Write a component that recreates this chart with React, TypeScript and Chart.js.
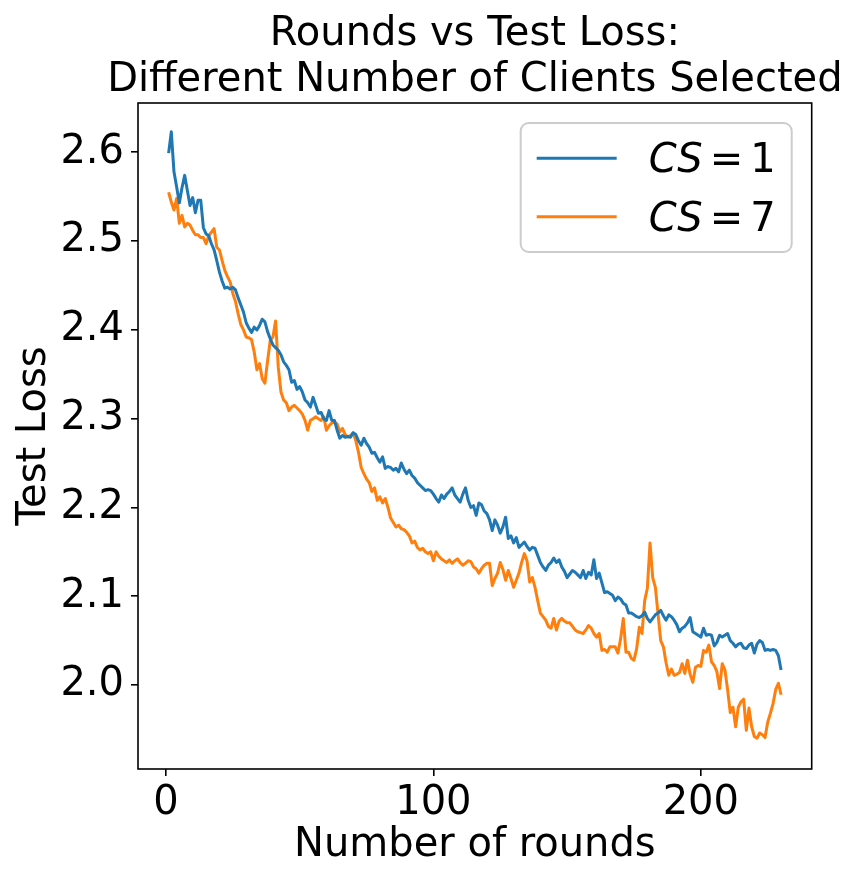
import React, { useEffect, useRef } from "react";
import { Chart, registerables } from "chart.js";

Chart.register(...registerables);

const TITLE_LINES = ["Rounds vs Test Loss:", "Different Number of Clients Selected"];
const X_LABEL = "Number of rounds";
const Y_LABEL = "Test Loss";
const X_TICKS = [0, 100, 200];
const Y_TICKS = [2.0, 2.1, 2.2, 2.3, 2.4, 2.5, 2.6];
const SERIES_CS = ["1", "7"];
const SERIES_COLORS = ["#1f77b4", "#ff7f0e"];
const FIRST_ROUND = 1;

const lossCS1 = [
  2.599, 2.623, 2.578, 2.561, 2.543, 2.560, 2.574, 2.557, 2.540, 2.549,
  2.532, 2.546, 2.546, 2.515, 2.508, 2.506, 2.497, 2.490, 2.478, 2.465,
  2.455, 2.447, 2.448, 2.446, 2.448, 2.445, 2.436, 2.428, 2.420, 2.408,
  2.402, 2.397, 2.403, 2.400, 2.405, 2.412, 2.409, 2.398, 2.390, 2.383,
  2.380, 2.377, 2.372, 2.364, 2.360, 2.355, 2.341, 2.343, 2.333, 2.336,
  2.330, 2.321, 2.318, 2.313, 2.324, 2.315, 2.306, 2.307, 2.300, 2.298,
  2.309, 2.298, 2.298, 2.287, 2.278, 2.281, 2.279, 2.280, 2.279, 2.284,
  2.282, 2.275, 2.270, 2.278, 2.272, 2.268, 2.261, 2.262, 2.256, 2.251,
  2.257, 2.244, 2.246, 2.245, 2.242, 2.244, 2.240, 2.250, 2.243, 2.238,
  2.242, 2.236, 2.233, 2.228, 2.225, 2.222, 2.219, 2.220, 2.219, 2.215,
  2.210, 2.206, 2.214, 2.210, 2.215, 2.218, 2.222, 2.214, 2.210, 2.206,
  2.215, 2.222, 2.208, 2.200, 2.202, 2.191, 2.205, 2.203, 2.196, 2.193,
  2.186, 2.174, 2.186, 2.180, 2.171, 2.178, 2.189, 2.165, 2.168, 2.160,
  2.166, 2.155, 2.158, 2.161, 2.156, 2.152, 2.155, 2.154, 2.146, 2.138,
  2.133, 2.129, 2.135, 2.138, 2.143, 2.138, 2.141, 2.133, 2.128, 2.121,
  2.125, 2.129, 2.127, 2.124, 2.121, 2.129, 2.120, 2.127, 2.124, 2.141,
  2.120, 2.126, 2.115, 2.104, 2.105, 2.103, 2.101, 2.095, 2.099, 2.097,
  2.092, 2.090, 2.081, 2.081, 2.079, 2.077, 2.076, 2.078, 2.082, 2.075,
  2.071, 2.075, 2.079, 2.081, 2.084, 2.078, 2.073, 2.079, 2.077, 2.073,
  2.068, 2.060, 2.064, 2.066, 2.070, 2.076, 2.060, 2.058, 2.056, 2.054,
  2.064, 2.056, 2.057, 2.056, 2.044, 2.048, 2.056, 2.054, 2.056, 2.058,
  2.050, 2.047, 2.043, 2.046, 2.047, 2.042, 2.041, 2.045, 2.047, 2.036,
  2.046, 2.050, 2.048, 2.039, 2.040, 2.039, 2.040, 2.039, 2.033, 2.017,
];

const lossCS7 = [
  2.555, 2.544, 2.535, 2.548, 2.520, 2.529, 2.516, 2.520, 2.518, 2.512,
  2.507, 2.507, 2.504, 2.504, 2.497, 2.506, 2.510, 2.514, 2.493, 2.490,
  2.478, 2.467, 2.460, 2.454, 2.441, 2.432, 2.418, 2.406, 2.400, 2.392,
  2.391, 2.389, 2.375, 2.355, 2.362, 2.345, 2.340, 2.365, 2.388, 2.392,
  2.410, 2.358, 2.330, 2.321, 2.318, 2.309, 2.313, 2.315, 2.312, 2.309,
  2.305, 2.298, 2.287, 2.298, 2.300, 2.302, 2.300, 2.298, 2.302, 2.287,
  2.292, 2.295, 2.296, 2.294, 2.285, 2.289, 2.282, 2.279, 2.281, 2.284,
  2.275, 2.262, 2.245, 2.238, 2.232, 2.228, 2.218, 2.222, 2.208, 2.212,
  2.205, 2.210, 2.200, 2.188, 2.183, 2.178, 2.180, 2.176, 2.175, 2.172,
  2.168, 2.160, 2.162, 2.155, 2.152, 2.154, 2.150, 2.148, 2.150, 2.140,
  2.150, 2.145, 2.142, 2.140, 2.138, 2.141, 2.137, 2.140, 2.142, 2.138,
  2.135, 2.137, 2.140, 2.139, 2.133, 2.131, 2.126, 2.131, 2.135, 2.137,
  2.137, 2.112, 2.120, 2.126, 2.138, 2.130, 2.118, 2.129, 2.120, 2.110,
  2.118, 2.126, 2.138, 2.148, 2.140, 2.116, 2.121, 2.110, 2.095, 2.081,
  2.077, 2.073, 2.066, 2.064, 2.075, 2.062, 2.072, 2.075, 2.072, 2.070,
  2.070, 2.066, 2.062, 2.060, 2.059, 2.058, 2.062, 2.067, 2.064, 2.058,
  2.054, 2.058, 2.039, 2.040, 2.037, 2.043, 2.043, 2.043, 2.036, 2.052,
  2.075, 2.037, 2.037, 2.030, 2.028, 2.041, 2.065, 2.058, 2.095, 2.109,
  2.160, 2.121, 2.110, 2.080, 2.050, 2.043, 2.025, 2.011, 2.018, 2.011,
  2.012, 2.014, 2.024, 2.013, 2.028, 2.012, 2.003, 2.020, 2.022, 2.021,
  2.039, 2.037, 2.045, 2.026, 2.022, 2.015, 1.996, 2.024, 2.017, 1.995,
  1.969, 1.975, 1.953, 1.975, 1.981, 1.984, 1.949, 1.974, 1.953, 1.942,
  1.940, 1.946, 1.944, 1.941, 1.958, 1.968, 1.979, 1.995, 2.002, 1.989,
];

const rounds = lossCS1.map((_, i) => FIRST_ROUND + i);

const FAMILY = '"DejaVu Sans", sans-serif';
const FS = 40;

const decorPlugin = {
  id: "decor",
  afterDraw(chart: any) {
    const { ctx, chartArea: a } = chart;
    ctx.save();
    // axes frame
    ctx.strokeStyle = "#000";
    ctx.lineWidth = 1.6;
    ctx.strokeRect(a.left, a.top, a.right - a.left, a.bottom - a.top);

    // title
    ctx.fillStyle = "#000";
    ctx.font = `${FS}px ${FAMILY}`;
    ctx.textAlign = "center";
    ctx.textBaseline = "alphabetic";
    const cx = (a.left + a.right) / 2;
    const lastBase = a.top - 12;
    const lineGap = 46.5;
    TITLE_LINES.forEach((line, i) => {
      ctx.fillText(line, cx, lastBase - (TITLE_LINES.length - 1 - i) * lineGap);
    });

    // legend
    const pad = 16;
    const handleLen = 80;
    const handlePad = 32;
    const rowH = 38.5;
    const rowGap = 20;
    const italic = `italic ${FS}px ${FAMILY}`;
    const normal = `${FS}px ${FAMILY}`;
    const eqSpace = 7;
    const measure = (cs: string) => {
      ctx.font = italic;
      const w1 = ctx.measureText("CS").width;
      ctx.font = normal;
      const w2 = ctx.measureText("=").width;
      const w3 = ctx.measureText(cs).width;
      return { w1, w2, w3, total: w1 + eqSpace + w2 + eqSpace + w3 };
    };
    const maxText = Math.max(...SERIES_CS.map((c) => measure(c).total));
    const boxW = pad + handleLen + handlePad + maxText + pad;
    const boxH = pad * 2 + rowH * SERIES_CS.length + rowGap * (SERIES_CS.length - 1);
    const bx = a.right - 20 - boxW;
    const by = a.top + 20;
    ctx.beginPath();
    ctx.roundRect(bx, by, boxW, boxH, 8);
    ctx.fillStyle = "rgba(255,255,255,0.8)";
    ctx.fill();
    ctx.strokeStyle = "#cccccc";
    ctx.lineWidth = 2;
    ctx.stroke();

    SERIES_CS.forEach((cs, i) => {
      const cy = by + pad + rowH / 2 + i * (rowH + rowGap);
      ctx.beginPath();
      ctx.strokeStyle = SERIES_COLORS[i];
      ctx.lineWidth = 3;
      ctx.lineCap = "butt";
      ctx.moveTo(bx + pad, cy);
      ctx.lineTo(bx + pad + handleLen, cy);
      ctx.stroke();
      const m = measure(cs);
      let tx = bx + pad + handleLen + handlePad;
      const base = cy + 14;
      ctx.fillStyle = "#000";
      ctx.textAlign = "left";
      ctx.font = italic;
      ctx.fillText("CS", tx, base);
      tx += m.w1 + eqSpace;
      ctx.font = normal;
      ctx.fillText("=", tx, base);
      tx += m.w2 + eqSpace;
      ctx.fillText(cs, tx, base);
    });
    ctx.restore();
  },
};

export default function App() {
  const ref = useRef<HTMLCanvasElement | null>(null);
  useEffect(() => {
    if (!ref.current) return;
    const chart = new Chart(ref.current, {
      type: "line",
      data: {
        labels: rounds,
        datasets: [
          {
            label: "CS = " + SERIES_CS[0],
            data: lossCS1,
            borderColor: SERIES_COLORS[0],
            backgroundColor: SERIES_COLORS[0],
            borderWidth: 3,
            pointRadius: 0,
            tension: 0,
            fill: false,
            borderJoinStyle: "round",
          },
          {
            label: "CS = " + SERIES_CS[1],
            data: lossCS7,
            borderColor: SERIES_COLORS[1],
            backgroundColor: SERIES_COLORS[1],
            borderWidth: 3,
            pointRadius: 0,
            tension: 0,
            fill: false,
            borderJoinStyle: "round",
          },
        ],
      },
      options: {
        responsive: false,
        animation: false,
        events: [],
        layout: { padding: { top: 103, right: 47.3, bottom: 0, left: 0 } },
        plugins: {
          legend: { display: false },
          title: { display: false },
          tooltip: { enabled: false },
        },
        scales: {
          x: {
            type: "linear",
            min: -10.45,
            max: 241.45,
            afterBuildTicks: (s: any) => {
              s.ticks = X_TICKS.map((v) => ({ value: v }));
            },
            afterFit: (s: any) => {
              s.height = 115;
            },
            grid: {
              drawOnChartArea: false,
              drawTicks: true,
              tickLength: 7,
              color: "#000",
              lineWidth: 1.6,
            },
            border: { display: false },
            ticks: {
              font: { size: FS, family: FAMILY },
              color: "#000",
              padding: 4,
              maxRotation: 0,
              autoSkip: false,
              callback: (v: any) => String(v),
            },
            title: {
              display: true,
              text: X_LABEL,
              color: "#000",
              font: { size: FS, family: FAMILY, lineHeight: 1.2 },
              padding: { top: 0, bottom: 14 },
            },
          },
          y: {
            type: "linear",
            min: 1.9054,
            max: 2.6555,
            afterBuildTicks: (s: any) => {
              s.ticks = Y_TICKS.map((v) => ({ value: v }));
            },
            afterFit: (s: any) => {
              s.width = 138;
            },
            grid: {
              drawOnChartArea: false,
              drawTicks: true,
              tickLength: 7,
              color: "#000",
              lineWidth: 1.6,
            },
            border: { display: false },
            ticks: {
              font: { size: FS, family: FAMILY },
              color: "#000",
              padding: 7,
              autoSkip: false,
              callback: (v: any) => Number(v).toFixed(1),
            },
            title: {
              display: true,
              text: Y_LABEL,
              color: "#000",
              font: { size: FS, family: FAMILY, lineHeight: 1.2 },
              padding: { top: 11, bottom: 0 },
            },
          },
        },
      },
      plugins: [decorPlugin],
    } as any);
    return () => chart.destroy();
  }, []);

  return (
    <div style={{ position: "absolute", left: 0, top: 0, width: 859, height: 884, background: "#fff" }}>
      <canvas ref={ref} width={859} height={884} style={{ display: "block" }} />
    </div>
  );
}
